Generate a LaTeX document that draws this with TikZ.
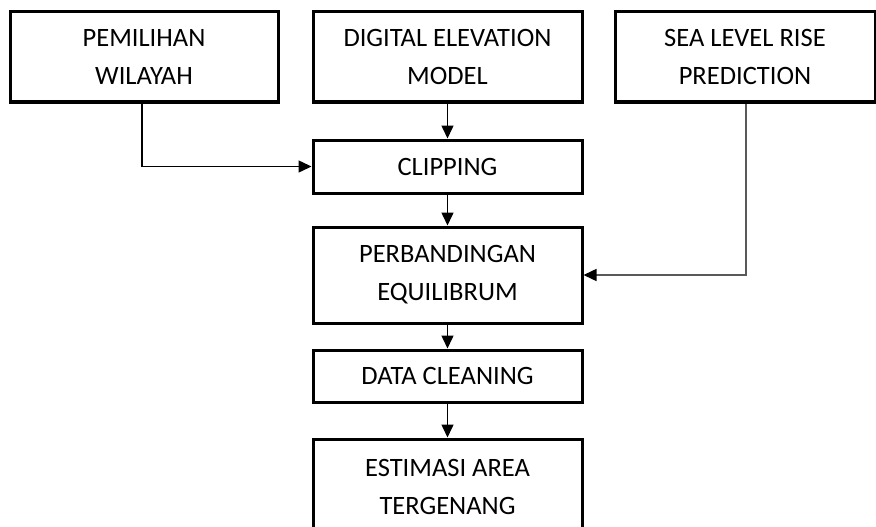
\documentclass[tikz,border=0pt]{standalone}
\usepackage{fontspec}
\setmainfont{Carlito}
\usetikzlibrary{arrows.meta}
\begin{document}
\begin{tikzpicture}[x=1pt,y=-1pt,
  box/.style={draw=black,line width=3pt,fill=white,align=center,inner sep=0pt,
    font=\fontsize{26.5}{38}\selectfont},
  conn/.style={line width=1.5pt,-{Triangle[length=13pt,width=12pt,fill=black,color=black]}}]
\useasboundingbox (0,0) rectangle (876,527);
\begin{scope}
\clip (0,0) rectangle (876,527);
\node[box,minimum width=268pt,minimum height=90pt] (pem) at (144,57) {PEMILIHAN\\WILAYAH};
\node[box,minimum width=269pt,minimum height=90pt] (dem) at (447.5,57) {DIGITAL ELEVATION\\MODEL};
\node[box,minimum width=260pt,minimum height=90pt] (sea) at (745,57) {SEA LEVEL RISE\\PREDICTION};
\node[box,minimum width=269pt,minimum height=53pt] (clip) at (447.5,166.5) {CLIPPING};
\node[box,minimum width=269pt,minimum height=96pt] (perb) at (447.5,275) {PERBANDINGAN\\EQUILIBRUM};
\node[box,minimum width=269pt,minimum height=52pt] (dc) at (447.5,376) {DATA CLEANING};
\node[box,minimum width=269pt,minimum height=96pt] (est) at (447.5,487) {ESTIMASI AREA\\TERGENANG};
\draw[conn] (dem) -- (clip);
\draw[conn] (clip) -- (perb);
\draw[conn] (perb) -- (dc);
\draw[conn] (dc) -- (est);
\draw[conn] (pem.south -| 142,0) |- (clip.west);
\draw[conn,draw=black!65] (sea.south -| 746,0) |- (perb.east);
\end{scope}
\end{tikzpicture}
\end{document}
